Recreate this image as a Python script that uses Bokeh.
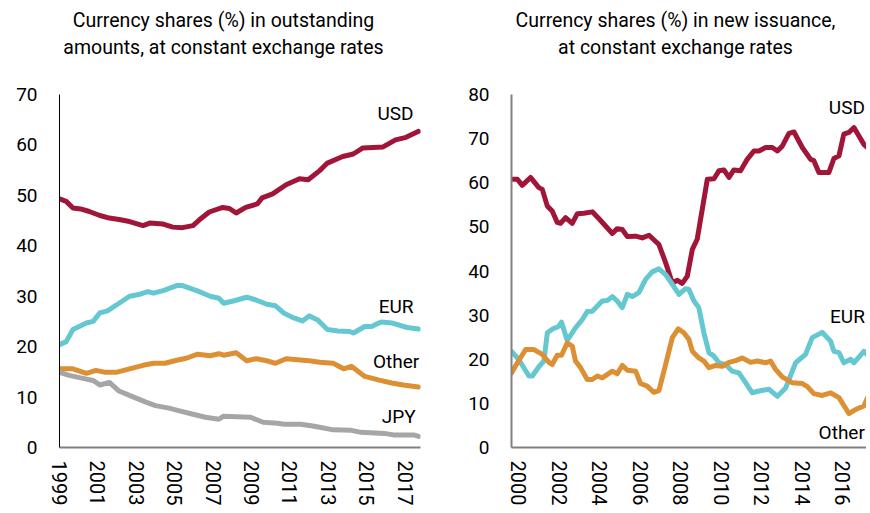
from bokeh.plotting import figure
from bokeh.models import Range1d, FixedTicker
from bokeh.layouts import row, column
from bokeh.embed import file_html
from bokeh.resources import INLINE
from bokeh.core.properties import value

# ---------------- data: outstanding amounts (left) ----------------
out_usd_t = [1999.0, 1999.35, 1999.7, 2000.1, 2000.55, 2001.1, 2001.6, 2002.1, 2002.65, 2003.35,
             2003.7, 2004.4, 2004.9, 2005.4, 2005.95, 2006.3, 2006.8, 2007.5, 2007.85, 2008.2,
             2008.7, 2009.3, 2009.55, 2010.1, 2010.8, 2011.5, 2011.95, 2012.55, 2012.95, 2013.75,
             2014.3, 2014.8, 2015.85, 2016.5, 2017.05, 2017.7]
out_usd = [49.3, 48.8, 47.5, 47.3, 46.8, 46.0, 45.5, 45.2, 44.8, 44.0,
           44.5, 44.3, 43.7, 43.6, 44.0, 45.2, 46.7, 47.6, 47.4, 46.5,
           47.6, 48.3, 49.5, 50.3, 52.1, 53.3, 53.1, 54.9, 56.4, 57.7,
           58.2, 59.4, 59.6, 61.0, 61.5, 62.7]

out_eur_t = [1999.0, 1999.35, 1999.7, 2000.4, 2000.75, 2001.1, 2001.5, 2002.1, 2002.65, 2003.2,
             2003.6, 2003.9, 2004.4, 2005.1, 2005.4, 2006.15, 2006.85, 2007.3, 2007.55, 2008.1,
             2008.75, 2009.2, 2009.8, 2010.25, 2010.7, 2011.2, 2011.65, 2012.0, 2012.45, 2012.95,
             2013.5, 2014.1, 2014.3, 2014.9, 2015.25, 2015.75, 2016.3, 2017.1, 2017.7]
out_eur = [20.4, 21.0, 23.4, 24.7, 25.0, 26.7, 27.1, 28.6, 30.0, 30.4,
           30.9, 30.6, 31.1, 32.1, 32.1, 31.1, 30.0, 29.6, 28.6, 29.1,
           29.8, 29.3, 28.4, 28.1, 26.6, 25.7, 25.1, 26.1, 25.3, 23.4,
           23.1, 23.0, 22.7, 24.0, 24.0, 24.9, 24.7, 23.8, 23.5]

out_oth_t = [1999.0, 1999.7, 2000.4, 2000.9, 2001.4, 2001.95, 2002.65, 2003.35, 2003.9, 2004.5,
             2005.1, 2005.6, 2006.2, 2006.85, 2007.3, 2007.55, 2008.2, 2008.75, 2009.25, 2009.8,
             2010.25, 2010.8, 2011.4, 2012.0, 2012.55, 2013.25, 2013.8, 2014.2, 2014.9, 2015.6,
             2016.3, 2016.9, 2017.7]
out_oth = [15.6, 15.6, 14.7, 15.3, 14.9, 14.9, 15.6, 16.3, 16.7, 16.7,
           17.3, 17.7, 18.5, 18.2, 18.6, 18.3, 18.8, 17.2, 17.6, 17.2,
           16.7, 17.6, 17.4, 17.2, 16.9, 16.7, 15.6, 16.1, 14.1, 13.4,
           12.8, 12.4, 12.0]

out_jpy_t = [1999.0, 1999.5, 2000.1, 2000.75, 2001.1, 2001.6, 2002.1, 2002.8, 2003.5, 2004.0,
             2004.7, 2005.2, 2005.95, 2006.6, 2007.3, 2007.55, 2008.95, 2009.6, 2010.35, 2010.7,
             2011.55, 2012.1, 2012.55, 2013.25, 2014.2, 2014.7, 2015.9, 2016.4, 2017.45, 2017.7]
out_jpy = [14.9, 14.3, 13.8, 13.3, 12.4, 12.9, 11.2, 10.1, 9.0, 8.3,
           7.8, 7.3, 6.6, 6.0, 5.6, 6.2, 6.0, 5.0, 4.8, 4.6,
           4.6, 4.3, 4.0, 3.5, 3.4, 3.0, 2.8, 2.5, 2.5, 2.2]

# ---------------- data: new issuance (right) ----------------
new_usd_t = [1999.65, 1999.94, 2000.18, 2000.59, 2001.0, 2001.17, 2001.42, 2001.66, 2001.91, 2002.07,
             2002.32, 2002.65, 2002.9, 2003.22, 2003.64, 2003.96, 2004.63, 2004.87, 2005.12, 2005.37,
             2005.78, 2006.11, 2006.44, 2006.93, 2007.26, 2007.59, 2007.84, 2008.08, 2008.33, 2008.58,
             2008.82, 2009.07, 2009.32, 2009.65, 2009.89, 2010.14, 2010.39, 2010.63, 2010.96, 2011.29,
             2011.62, 2011.87, 2012.2, 2012.53, 2012.78, 2013.02, 2013.35, 2013.6, 2014.01, 2014.42,
             2014.58, 2014.83, 2015.32, 2015.57, 2015.82, 2016.06, 2016.31, 2016.56, 2017.05, 2017.3]
new_usd = [60.8, 60.8, 59.4, 61.2, 58.9, 58.5, 54.7, 53.6, 51.0, 50.8,
           52.1, 50.8, 53.0, 53.1, 53.4, 51.9, 48.5, 49.6, 49.4, 47.8,
           47.9, 47.5, 48.1, 46.0, 41.9, 37.3, 37.9, 37.2, 38.8, 44.9,
           47.2, 54.0, 60.8, 60.9, 62.7, 62.9, 61.2, 62.9, 62.7, 65.3,
           67.2, 67.2, 68.0, 68.0, 67.2, 68.3, 71.2, 71.5, 68.0, 65.3,
           65.0, 62.3, 62.3, 65.5, 66.1, 71.0, 71.4, 72.5, 68.7, 67.6]

new_eur_t = [1999.65, 2000.0, 2000.51, 2000.68, 2001.0, 2001.25, 2001.42, 2001.66, 2001.99, 2002.12,
             2002.4, 2002.81, 2003.15, 2003.39, 2003.64, 2004.13, 2004.38, 2004.63, 2004.87, 2005.12,
             2005.37, 2005.61, 2005.94, 2006.27, 2006.6, 2006.93, 2007.26, 2007.59, 2007.92, 2008.25,
             2008.41, 2008.66, 2008.9, 2009.15, 2009.4, 2009.65, 2009.89, 2010.22, 2010.55, 2010.88,
             2011.21, 2011.54, 2011.87, 2012.36, 2012.78, 2013.19, 2013.68, 2014.17, 2014.5, 2014.99,
             2015.41, 2015.57, 2015.82, 2016.06, 2016.4, 2016.56, 2017.05, 2017.38]
new_eur = [21.8, 20.0, 16.2, 16.2, 18.3, 19.6, 26.0, 26.8, 27.5, 28.4,
           24.3, 27.1, 29.0, 30.8, 30.9, 33.2, 33.3, 34.2, 33.2, 31.7,
           34.7, 34.2, 35.1, 38.1, 39.8, 40.5, 39.2, 37.0, 34.7, 36.0,
           35.8, 33.2, 31.7, 26.0, 21.5, 20.7, 19.2, 18.8, 17.3, 16.9,
           14.7, 12.4, 12.8, 13.2, 11.6, 13.5, 19.2, 21.1, 24.9, 26.1,
           24.1, 21.8, 21.5, 19.2, 20.0, 19.2, 21.8, 20.3]

new_oth_t = [1999.65, 1999.94, 2000.35, 2000.76, 2001.17, 2001.5, 2001.66, 2001.91, 2002.12, 2002.4,
             2002.65, 2002.81, 2003.06, 2003.39, 2003.64, 2003.89, 2004.13, 2004.63, 2004.87, 2005.12,
             2005.37, 2005.78, 2006.02, 2006.35, 2006.68, 2006.93, 2007.26, 2007.59, 2007.88, 2008.16,
             2008.41, 2008.58, 2008.9, 2009.15, 2009.4, 2009.73, 2010.06, 2010.39, 2010.72, 2011.05,
             2011.46, 2011.79, 2012.2, 2012.44, 2012.69, 2013.02, 2013.51, 2014.01, 2014.26, 2014.58,
             2014.99, 2015.41, 2015.82, 2016.31, 2016.64, 2017.05, 2017.3]
new_oth = [16.9, 19.2, 22.2, 22.2, 21.1, 19.3, 18.8, 20.9, 20.9, 23.7,
           23.0, 19.6, 18.1, 15.4, 15.4, 16.2, 15.8, 17.3, 16.7, 18.6,
           17.5, 17.3, 14.5, 13.9, 12.5, 12.9, 18.8, 24.9, 26.9, 26.0,
           24.5, 21.8, 20.3, 19.6, 18.1, 18.6, 18.4, 19.3, 19.7, 20.3,
           19.3, 19.6, 19.2, 19.6, 17.7, 16.0, 14.7, 14.5, 13.8, 12.2,
           11.8, 12.4, 11.3, 7.7, 8.6, 9.4, 12.0]

series_names = ["USD", "EUR", "Other", "JPY"]
left_title = ["Currency shares (%) in outstanding", "amounts, at constant exchange rates"]
right_title = ["Currency shares (%) in new issuance,", "at constant exchange rates"]
left_ticks = [1999, 2001, 2003, 2005, 2007, 2009, 2011, 2013, 2015, 2017]
right_ticks = [2000, 2002, 2004, 2006, 2008, 2010, 2012, 2014, 2016]
left_yticks = [0, 10, 20, 30, 40, 50, 60, 70]
right_yticks = [0, 10, 20, 30, 40, 50, 60, 70, 80]

COL = {"USD": "#A11638", "EUR": "#65C8D0", "Other": "#DD9033", "JPY": "#A6A6A6"}
FONT = "Roboto"
TITLE_H = 70


def title_fig(width, frame_l, frame_r, lines, cx):
    # axis-less heading figure; its frame is aligned by the column with the chart's frame,
    # so its x range spans that frame in page pixels (y in pixels, downward)
    t = figure(width=width, height=TITLE_H, x_range=Range1d(frame_l, frame_r),
               y_range=Range1d(TITLE_H, 0),
               output_backend="svg", toolbar_location=None,
               min_border_left=0, min_border_right=0, min_border_top=0, min_border_bottom=0,
               x_axis_type=None, y_axis_type=None)
    t.xgrid.visible = False
    t.ygrid.visible = False
    t.outline_line_color = None
    t.text([cx, cx], [20, 47], text=lines, text_align="center", text_baseline="middle",
           text_font=value(FONT), text_font_size="19.5px", text_color="black")
    return t


def base_fig(width, xr, yr, min_left, min_right, xticks, yticks, yaxis_color, yaxis_w, ystand):
    p = figure(width=width, height=510 - TITLE_H, x_range=xr, y_range=yr,
               output_backend="svg", toolbar_location=None,
               min_border_left=min_left, min_border_right=min_right,
               min_border_top=94 - TITLE_H, min_border_bottom=63)
    p.xgrid.visible = False
    p.ygrid.visible = False
    p.outline_line_color = None
    p.background_fill_color = "white"
    p.border_fill_color = "white"
    p.xaxis.ticker = FixedTicker(ticks=xticks)
    p.yaxis.ticker = FixedTicker(ticks=yticks)
    p.xaxis.major_label_orientation = "vertical"
    for ax in (p.xaxis, p.yaxis):
        ax.major_tick_line_color = None
        ax.minor_tick_line_color = None
        ax.major_tick_out = 0
        ax.major_tick_in = 0
        ax.major_label_text_font = FONT
        ax.major_label_text_color = "black"
    p.xaxis.major_label_text_font_size = "20px"
    p.yaxis.major_label_text_font_size = "19px"
    p.xaxis.major_label_standoff = 13
    p.yaxis.major_label_standoff = ystand
    p.xaxis.axis_line_color = "#808080"
    p.xaxis.axis_line_width = 2
    p.yaxis.axis_line_color = yaxis_color
    p.yaxis.axis_line_width = yaxis_w
    return p


# ---------------- left chart ----------------
t1 = title_fig(440, 59, 420, left_title, 223)
p1 = base_fig(440, Range1d(1999.0, 2017.8), Range1d(0, 70), 59, 20,
              left_ticks, left_yticks, "black", 1, 22)
for t, v, name in [(out_usd_t, out_usd, "USD"), (out_eur_t, out_eur, "EUR"),
                   (out_oth_t, out_oth, "Other"), (out_jpy_t, out_jpy, "JPY")]:
    p1.line(t, v, line_color=COL[name], line_width=5, line_join="round", line_cap="round")

left_lab_x = [2016.5, 2016.53, 2016.53, 2016.66]
left_lab_y = [66.3, 28.0, 17.1, 6.15]
p1.text(left_lab_x, left_lab_y, text=series_names, text_align="center", text_baseline="middle",
        text_font=value(FONT), text_font_size="19px", text_color="black")

# ---------------- right chart ----------------
t2 = title_fig(426, 511, 866, right_title, 675)
p2 = base_fig(426, Range1d(1999.65, 2017.18), Range1d(0, 80), 71, 0,
              right_ticks, right_yticks, "#808080", 2, 22)
for t, v, name in [(new_usd_t, new_usd, "USD"), (new_eur_t, new_eur, "EUR"),
                   (new_oth_t, new_oth, "Other")]:
    p2.line(t, v, line_color=COL[name], line_width=5, line_join="round", line_cap="round")

right_lab_x = [2017.1, 2017.1, 2017.1]
right_lab_y = [77.0, 29.8, 3.3]
p2.text(right_lab_x, right_lab_y, text=series_names[:3], text_align="right", text_baseline="middle",
        text_font=value(FONT), text_font_size="19px", text_color="black")

layout = row(column(t1, p1), column(t2, p2))
open("out.html", "w").write(file_html(layout, INLINE))
